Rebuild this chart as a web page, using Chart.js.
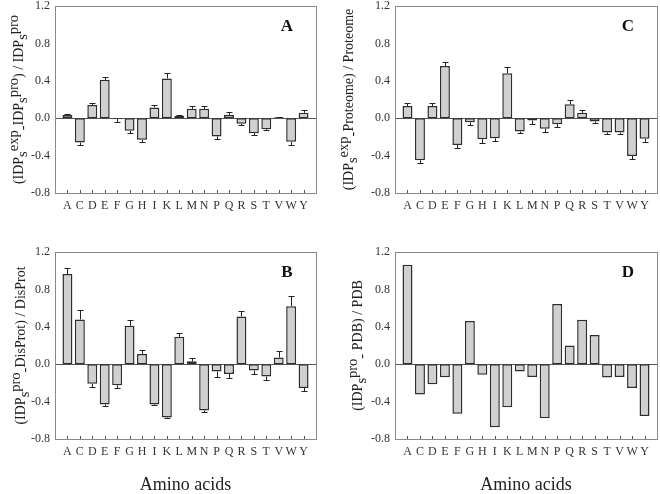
<!DOCTYPE html>
<html>
<head>
<meta charset="utf-8">
<script src="https://cdn.jsdelivr.net/npm/chart.js@4.4.1/dist/chart.umd.min.js"></script>
<style>
  body { margin: 0; background: #fff; }
  #wrap { position: relative; width: 660px; height: 494px; }
  canvas { position: absolute; }
</style>
</head>
<body>
<div id="wrap">
  <canvas id="pA" width="330" height="247" style="left:0;top:0"></canvas>
  <canvas id="pC" width="330" height="247" style="left:330px;top:0"></canvas>
  <canvas id="pB" width="330" height="247" style="left:0;top:247px"></canvas>
  <canvas id="pD" width="330" height="247" style="left:330px;top:247px"></canvas>
</div>
<script>
const aminoAcids = ['A','C','D','E','F','G','H','I','K','L','M','N','P','Q','R','S','T','V','W','Y'];
const yTicks = [-0.8, -0.4, 0.0, 0.4, 0.8, 1.2];

// A: (IDPs exp - IDPs pro) / IDPs pro
const valuesA = [0.035, -0.26, 0.14, 0.41, -0.01, -0.135, -0.23, 0.115, 0.425, 0.025, 0.10, 0.10, -0.195, 0.036, -0.06, -0.16, -0.118, 0.01, -0.253, 0.057];
const errorsA = [0.015, 0.03, 0.02, 0.03, 0.03, 0.025, 0.025, 0.025, 0.055, 0.012, 0.03, 0.03, 0.03, 0.028, 0.018, 0.018, 0.01, 0.008, 0.035, 0.035];

// C: (IDPs exp - Proteome) / Proteome
const valuesC = [0.13, -0.45, 0.13, 0.557, -0.286, -0.043, -0.225, -0.214, 0.48, -0.143, -0.025, -0.114, -0.064, 0.15, 0.057, -0.036, -0.154, -0.154, -0.404, -0.22];
const errorsC = [0.03, 0.03, 0.03, 0.045, 0.03, 0.028, 0.035, 0.03, 0.07, 0.015, 0.035, 0.032, 0.035, 0.04, 0.03, 0.02, 0.01, 0.01, 0.035, 0.032];

// B: (IDPs pro - DisProt) / DisProt
const valuesB = [0.964, 0.479, -0.21, -0.432, -0.225, 0.41, 0.11, -0.432, -0.571, 0.293, 0.032, -0.496, -0.079, -0.104, 0.51, -0.068, -0.132, 0.071, 0.621, -0.254];
const errorsB = [0.07, 0.10, 0.032, 0.02, 0.03, 0.065, 0.043, 0.005, 0.007, 0.043, 0.036, 0.018, 0.053, 0.046, 0.058, 0.032, 0.032, 0.072, 0.11, 0.032];

// D: (IDPs pro - PDB) / PDB
const valuesD = [1.064, -0.325, -0.214, -0.139, -0.529, 0.461, -0.114, -0.675, -0.461, -0.079, -0.136, -0.579, 0.643, 0.2, 0.475, 0.311, -0.143, -0.136, -0.254, -0.554];

const SERIF = '"Liberation Serif", "Times New Roman", serif';

const decor = {
  id: 'decor',
  beforeDatasetsDraw(chart, args, o) {
    const {ctx, chartArea: a, scales: {y}} = chart;
    const y0 = Math.round(y.getPixelForValue(0)) + 0.5;
    ctx.save();
    ctx.strokeStyle = '#555';
    ctx.lineWidth = 1;
    ctx.beginPath();
    ctx.moveTo(a.left, y0);
    ctx.lineTo(a.right, y0);
    ctx.stroke();
    ctx.restore();
  },
  afterDatasetsDraw(chart, args, o) {
    const {ctx, chartArea: a, scales: {x, y}} = chart;
    ctx.save();

    // error bars, one side only
    if (o.errors) {
      ctx.strokeStyle = '#222';
      ctx.lineWidth = 1;
      o.values.forEach((v, i) => {
        const px = Math.round(x.getPixelForValue(i + 1)) + 0.5;
        const end = v >= 0 ? v + o.errors[i] : v - o.errors[i];
        const p1 = y.getPixelForValue(v);
        const p2 = Math.round(y.getPixelForValue(end)) + 0.5;
        ctx.beginPath();
        ctx.moveTo(px, p1);
        ctx.lineTo(px, p2);
        ctx.moveTo(px - 3, p2);
        ctx.lineTo(px + 3, p2);
        ctx.stroke();
      });
    }

    // frame
    ctx.strokeStyle = '#8a8a8a';
    ctx.lineWidth = 1;
    ctx.strokeRect(Math.round(a.left) + 0.5, Math.round(a.top) + 0.5,
                   Math.round(a.right - a.left), Math.round(a.bottom - a.top));

    // inward tick marks on the x axis
    ctx.strokeStyle = '#555';
    ctx.beginPath();
    aminoAcids.forEach((c, i) => {
      const px = Math.round(x.getPixelForValue(i + 1)) + 0.5;
      ctx.moveTo(px, Math.round(a.bottom));
      ctx.lineTo(px, Math.round(a.bottom) - 3);
    });
    ctx.stroke();

    // panel letter
    ctx.fillStyle = '#111';
    ctx.font = 'bold 17px ' + SERIF;
    ctx.textAlign = 'center';
    ctx.textBaseline = 'middle';
    ctx.fillText(o.letter, a.right - 29, a.top + 21);

    // x title
    if (o.xTitle) {
      ctx.font = '18px ' + SERIF;
      ctx.fillStyle = '#222';
      ctx.fillText(o.xTitle, (a.left + a.right) / 2, a.bottom + 46);
    }

    // y title with super/subscripts
    const big = '14px ' + SERIF, small = '14.5px ' + SERIF;
    let total = 0;
    o.title.forEach(([t, m]) => {
      ctx.font = m === 'n' ? big : small;
      total += ctx.measureText(t).width;
    });
    ctx.translate(o.titleX, (a.top + a.bottom) / 2);
    ctx.rotate(-Math.PI / 2);
    ctx.textAlign = 'left';
    ctx.textBaseline = 'alphabetic';
    ctx.fillStyle = '#222';
    let cx = -total / 2;
    o.title.forEach(([t, m]) => {
      ctx.font = m === 'n' ? big : small;
      const dy = m === 'sub' ? 9 : m === 'sup' ? 0 : 5;
      ctx.fillText(t, cx, dy);
      cx += ctx.measureText(t).width;
    });
    ctx.restore();
  }
};

const panels = [
  { id: 'pA', letter: 'A', values: valuesA, errors: errorsA, titleX: 18,
    title: [['(IDP','n'],['s','sub'],['exp','sup'],['-','sub'],['IDP','n'],['s','sub'],['pro','sup'],[') / IDP','n'],['s','sub'],['pro','sup']],
    pad: {left: 0, top: 6, right: 14, bottom: 0}, yw: 55, xh: 54 },
  { id: 'pC', letter: 'C', values: valuesC, errors: errorsC, titleX: 18,
    title: [['(IDP','n'],['s','sub'],['exp','sup'],['-','sub'],['Proteome) / Proteome','n']],
    pad: {left: 0, top: 6, right: 3, bottom: 0}, yw: 65, xh: 54 },
  { id: 'pB', letter: 'B', values: valuesB, errors: errorsB, titleX: 20, xTitle: 'Amino acids',
    title: [['(IDP','n'],['s','sub'],['pro','sup'],['-','sub'],['DisProt) / DisProt','n']],
    pad: {left: 0, top: 5, right: 14, bottom: 0}, yw: 55, xh: 55 },
  { id: 'pD', letter: 'D', values: valuesD, errors: null, titleX: 27, xTitle: 'Amino acids',
    title: [['(IDP','n'],['s','sub'],['pro','sup'],['- ','sub'],['PDB) / PDB','n']],
    pad: {left: 0, top: 5, right: 3, bottom: 0}, yw: 65, xh: 55 }
];

panels.forEach(p => {
  new Chart(document.getElementById(p.id), {
    type: 'bar',
    data: {
      labels: ['', ...aminoAcids, ''],
      datasets: [{
        data: [null, ...p.values, null],
        backgroundColor: '#d0d0d0',
        borderColor: '#2e2e2e',
        borderWidth: 1.5,
        borderSkipped: false,
        barPercentage: 0.8,
        categoryPercentage: 1
      }]
    },
    options: {
      responsive: false,
      animation: false,
      devicePixelRatio: 1,
      layout: { padding: p.pad },
      plugins: { legend: { display: false }, tooltip: { enabled: false }, decor: p },
      scales: {
        x: {
          offset: false,
          grid: { display: false, drawTicks: false },
          border: { display: false },
          ticks: { autoSkip: false, maxRotation: 0, padding: 6, color: '#333',
                   font: { family: SERIF, size: 12 } },
          afterFit: s => { s.height = p.xh; s.paddingLeft = 0; s.paddingRight = 0; }
        },
        y: {
          min: -0.8,
          max: 1.2,
          grid: { display: false, drawTicks: false },
          border: { display: false },
          afterBuildTicks: s => { s.ticks = yTicks.map(v => ({ value: v })); },
          ticks: { padding: 5, color: '#333', font: { family: SERIF, size: 12 },
                   callback: v => Math.abs(v) < 1e-9 ? '0.0' : v.toFixed(1) },
          afterFit: s => { s.width = p.yw; s.paddingTop = 0; s.paddingBottom = 0; }
        }
      }
    },
    plugins: [decor]
  });
});
</script>
</body>
</html>
